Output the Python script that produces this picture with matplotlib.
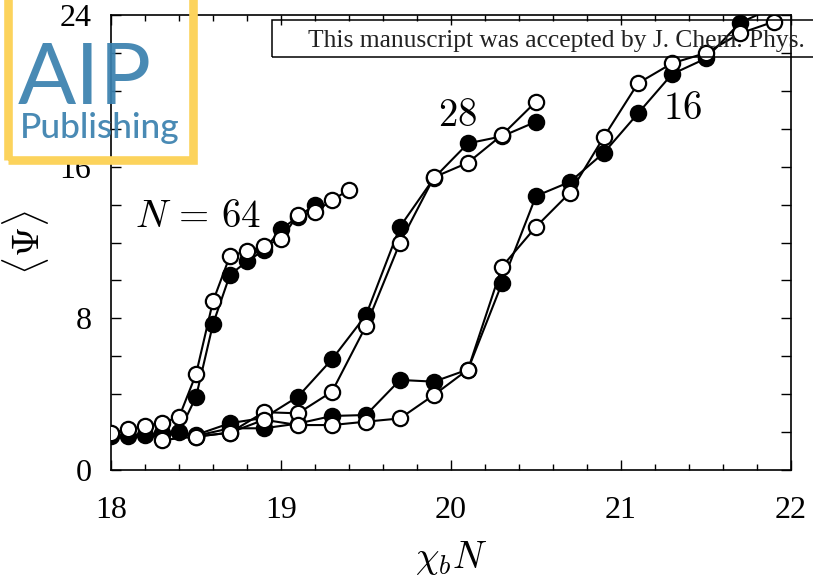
import matplotlib
matplotlib.use("Agg")
import matplotlib.pyplot as plt
from matplotlib.patches import Rectangle
from matplotlib.ticker import MultipleLocator

plt.rcParams['mathtext.fontset'] = 'cm'
plt.rcParams['font.family'] = ['Liberation Serif', 'DejaVu Serif']

# ---- data ----
x64 = [18.0, 18.1, 18.2, 18.3, 18.4, 18.5, 18.6, 18.7, 18.8, 18.9, 19.0, 19.1, 19.2, 19.3, 19.4]
y64_filled = [1.8, 1.8, 1.85, 1.95, 2.0, 3.85, 7.7, 10.3, 11.0, 11.6, 12.7, 13.35, 14.0]
y64_open = [1.95, 2.15, 2.32, 2.5, 2.78, 5.05, 8.9, 11.3, 11.55, 11.8, 12.2, 13.45, 13.6, 14.24, 14.77]

x28 = [18.5, 18.7, 18.9, 19.1, 19.3, 19.5, 19.7, 19.9, 20.1, 20.3, 20.5]
y28_filled = [1.85, 2.47, 2.75, 3.87, 5.84, 8.17, 12.83, 15.4, 17.23, 17.6, 18.37]
y28_open = [1.76, 1.97, 3.05, 2.99, 4.13, 7.6, 11.99, 15.44, 16.21, 17.67, 19.43]

x16 = [18.3, 18.5, 18.7, 18.9, 19.1, 19.3, 19.5, 19.7, 19.9, 20.1, 20.3, 20.5, 20.7, 20.9,
       21.1, 21.3, 21.5, 21.7, 21.9]
y16_filled = [1.9, 1.8, 2.2, 2.2, 2.45, 2.85, 2.9, 4.75, 4.66, 5.3, 9.85, 14.45, 15.2, 16.74,
              18.81, 20.88, 21.71, 23.59, 24.4]
y16_open = [1.58, 1.76, 1.97, 2.65, 2.37, 2.37, 2.55, 2.72, 3.96, 5.3, 10.72, 12.83, 14.63, 17.58,
            20.4, 21.45, 22.0, 23.03, 23.65]

xticks = [18, 19, 20, 21, 22]
yticks = [0, 8, 16, 24]

W, H = 813, 586
fig = plt.figure(figsize=(W / 100, H / 100), dpi=100)
ax = fig.add_axes([111 / W, 1 - 470 / H, (791 - 111) / W, (470 - 15) / H])
ax.set_facecolor('none')

ms = 11
lw = 1.5
mew = 1.6
def filled(x, y):
    ax.plot(x[:len(y)], y, '-o', color='black', lw=lw, ms=ms, mfc='black', mec='black', mew=mew, zorder=3)
def opened(x, y):
    ax.plot(x[:len(y)], y, '-o', color='black', lw=lw, ms=ms, mfc='white', mec='black', mew=mew, zorder=4)

filled(x64, y64_filled)
filled(x28, y28_filled)
filled(x16, y16_filled)
opened(x64, y64_open)
opened(x28, y28_open)
opened(x16, y16_open)

ax.set_xlim(18, 22)
ax.set_ylim(0, 24)
ax.set_xticks(xticks)
ax.set_yticks(yticks)
ax.xaxis.set_minor_locator(MultipleLocator(0.2))
ax.yaxis.set_minor_locator(MultipleLocator(2))
ax.tick_params(which='both', direction='in', top=True, right=True, labelsize=23, width=1.0)
ax.tick_params(axis='x', which='major', length=7, pad=19)
ax.tick_params(axis='x', which='minor', length=4)
ax.tick_params(axis='y', which='both', length=7, pad=14)
for s in ax.spines.values():
    s.set_linewidth(1.2)

ax.set_xlabel(r'$\chi_b N$', fontsize=27, labelpad=10)
ax.set_ylabel(r'$\langle \Psi \rangle$', fontsize=28, labelpad=6)

ax.text(18.51, 13.3, r'$N\, =\, 64$', fontsize=28, ha='center', va='center')
ax.text(20.04, 18.67, r'$28$', fontsize=28, ha='center', va='center')
ax.text(21.36, 18.99, r'$16$', fontsize=28, ha='center', va='center')

# manuscript banner
fig.patches.append(Rectangle((271.7 / W, 1 - 56.5 / H), 600 / W, 36.5 / H, transform=fig.transFigure,
                             fill=False, edgecolor='black', lw=1.1, zorder=1))
fig.text(308 / W, 1 - 46.7 / H, 'This manuscript was accepted by J. Chem. Phys.', fontsize=18.4,
         ha='left', va='baseline', color='#222222', zorder=1)

# AIP logo
fig.patches.append(Rectangle((8.3 / W, 1 - 159.7 / H), (192.5 - 8.3) / W, 200 / H, transform=fig.transFigure,
                             fill=False, edgecolor='#FCD35C', lw=6.2, zorder=10))
fig.text(18 / W, 1 - 104 / H, 'AIP', fontsize=62, family='Lato', weight='normal', color='#3B81AF',
         ha='left', va='baseline', alpha=0.93, zorder=11)
fig.text(20 / W, 1 - 138 / H, 'Publishing', fontsize=25.5, family='Lato', weight='medium', color='#3B81AF',
         ha='left', va='baseline', alpha=0.93, zorder=11)

fig.savefig('out.png', dpi=100)
